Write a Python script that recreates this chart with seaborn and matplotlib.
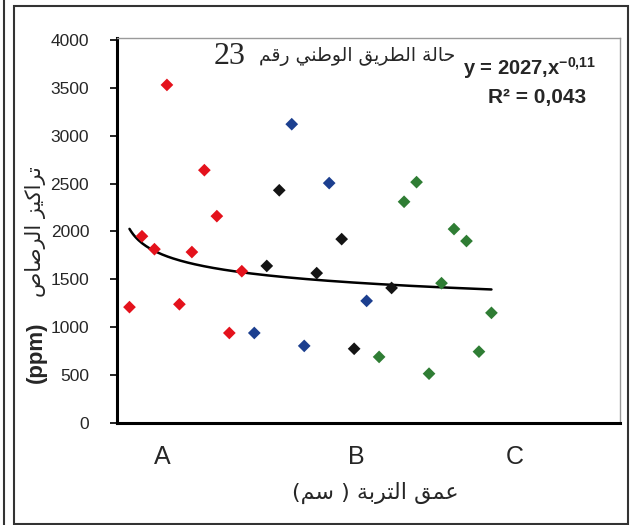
import numpy as np
import pandas as pd
import matplotlib
matplotlib.use('Agg')
import matplotlib.pyplot as plt
import seaborn as sns
from matplotlib.patches import Rectangle
from matplotlib.lines import Line2D

# lead concentrations (ppm) per sample
sample_no = list(range(1, 31))
lead_ppm = [1210, 1950, 1815, 3530, 1240, 1785, 2640, 2160, 940, 1585,
            940, 1640, 2430, 3120, 805, 1565, 2505, 1920, 775, 1275,
            690, 1410, 2310, 2515, 515, 1460, 2025, 1900, 745, 1150]
group = ['r'] * 10 + ['b', 'k', 'k', 'b', 'b', 'k', 'b', 'k', 'k', 'b',
                      'g', 'k'] + ['g'] * 8
palette = {'r': '#e4121c', 'b': '#1c3f8f', 'k': '#141414', 'g': '#2f7d34'}

# power trend from the chart: y = 2027 x^-0.11
fit_a, fit_b = 2027, -0.11
depth_labels = ['A', 'B', 'C']
depth_pos = [3.6, 19.2, 31.9]

df = pd.DataFrame({'x': sample_no, 'ppm': lead_ppm, 'grp': group})
trend = pd.DataFrame({'x': np.linspace(1, 30, 200)})
trend['y'] = fit_a * trend['x'] ** fit_b

sns.set_style('white')
plt.rcParams['font.family'] = ['Liberation Sans', 'DejaVu Sans']
plt.rcParams['mathtext.fontset'] = 'custom'
plt.rcParams['mathtext.rm'] = 'Liberation Sans:bold'
plt.rcParams['mathtext.it'] = 'Liberation Sans:bold'
plt.rcParams['mathtext.bf'] = 'Liberation Sans:bold'

# minimal arabic shaping (matplotlib has no bidi/joining support)
FORMS = {
    'ا': ('\uFE8D', '\uFE8E', None, None),
    'ب': ('\uFE8F', '\uFE90', '\uFE91', '\uFE92'),
    'ة': ('\uFE93', '\uFE94', None, None),
    'ت': ('\uFE95', '\uFE96', '\uFE97', '\uFE98'),
    'ح': ('\uFEA1', '\uFEA2', '\uFEA3', '\uFEA4'),
    'ر': ('\uFEAD', '\uFEAE', None, None),
    'ز': ('\uFEAF', '\uFEB0', None, None),
    'س': ('\uFEB1', '\uFEB2', '\uFEB3', '\uFEB4'),
    'ص': ('\uFEB9', '\uFEBA', '\uFEBB', '\uFEBC'),
    'ط': ('\uFEC1', '\uFEC2', '\uFEC3', '\uFEC4'),
    'ع': ('\uFEC9', '\uFECA', '\uFECB', '\uFECC'),
    'ق': ('\uFED5', '\uFED6', '\uFED7', '\uFED8'),
    'ك': ('\uFED9', '\uFEDA', '\uFEDB', '\uFEDC'),
    'ل': ('\uFEDD', '\uFEDE', '\uFEDF', '\uFEE0'),
    'م': ('\uFEE1', '\uFEE2', '\uFEE3', '\uFEE4'),
    'ن': ('\uFEE5', '\uFEE6', '\uFEE7', '\uFEE8'),
    'و': ('\uFEED', '\uFEEE', None, None),
    'ي': ('\uFEF1', '\uFEF2', '\uFEF3', '\uFEF4'),
}


def shape_word(w):
    out = []
    for i, ch in enumerate(w):
        if ch not in FORMS:
            out.append(ch)
            continue
        prev = w[i - 1] if i > 0 else ''
        nxt = w[i + 1] if i < len(w) - 1 else ''
        j_prev = prev in FORMS and FORMS[prev][2] is not None
        j_next = nxt in FORMS and FORMS[ch][2] is not None
        iso, fin, ini, med = FORMS[ch]
        if j_prev and j_next:
            out.append(med)
        elif j_prev:
            out.append(fin)
        elif j_next:
            out.append(ini)
        else:
            out.append(iso)
    return ''.join(out)[::-1]


def rtl(text):
    words = [shape_word(w) if any(c in FORMS for c in w) else w for w in text.split(' ')]
    return ' '.join(words[::-1])


fig = plt.figure(figsize=(6.31, 5.25), dpi=100)
ax = fig.add_axes([117 / 631, 1 - 423 / 525, 503 / 631, 385 / 525])

sns.lineplot(data=trend, x='x', y='y', color='black', linewidth=1.8, ax=ax)
sns.scatterplot(data=df, x='x', y='ppm', hue='grp', palette=palette, marker='D',
                s=42, edgecolor='none', legend=False, ax=ax, zorder=3)

ax.set_xlim(0, 40.3)
ax.set_ylim(0, 4020)
ax.set_yticks(range(0, 4001, 500))
ax.set_xticks(depth_pos)
ax.set_xticklabels(depth_labels, fontsize=18)
ax.set_xlabel('')
ax.set_ylabel('')
ax.tick_params(axis='y', direction='out', length=5, width=1.4, pad=15,
               labelsize=12.5, left=True, color='#222222')
ax.tick_params(axis='x', length=0, pad=16)

for side in ['left', 'bottom']:
    ax.spines[side].set_color('black')
    ax.spines[side].set_linewidth(2.2)
for side in ['top', 'right']:
    ax.spines[side].set_color('#9a9a9a')
    ax.spines[side].set_linewidth(1.0)

# title
fig.text(455 / 631, 1 - 57 / 525, rtl('حالة الطريق الوطني رقم'), family='DejaVu Sans',
         fontsize=13.5, ha='right', va='center')
fig.text(246 / 631, 1 - 56 / 525, '23', family='Liberation Serif', fontsize=23,
         ha='right', va='center')

# equation
fig.text(463 / 631, 1 - 68 / 525, r'y = 2027,x$^{-0{,}11}$', fontsize=14.5,
         fontweight='bold', ha='left', va='center')
fig.text(537 / 631, 1 - 97 / 525, 'R² = 0,043', fontsize=15, fontweight='bold',
         ha='center', va='center')

# axis labels
fig.text(36 / 631, 1 - 232 / 525, rtl('تراكيز الرصاص'), family='DejaVu Sans',
         fontsize=15, rotation=90, ha='center', va='center')
fig.text(36 / 631, 1 - 352 / 525, '(ppm)', fontsize=16,
         fontweight='bold', rotation=90, ha='center', va='center')
fig.text(375 / 631, 1 - 493 / 525, '(' + shape_word('سم') + ' ) ' + rtl('عمق التربة'),
         family='DejaVu Sans', fontsize=16, ha='center', va='center')

# outer frame
fig.patches.append(Rectangle((14 / 631, 1 - 524 / 525), 614 / 631, 518 / 525,
                             transform=fig.transFigure, fill=False,
                             edgecolor='#333333', linewidth=1.5))
fig.lines.append(Line2D([4 / 631, 4 / 631], [0, 1], transform=fig.transFigure,
                        color='#333333', linewidth=1.5))

fig.savefig('out.png', dpi=100)
